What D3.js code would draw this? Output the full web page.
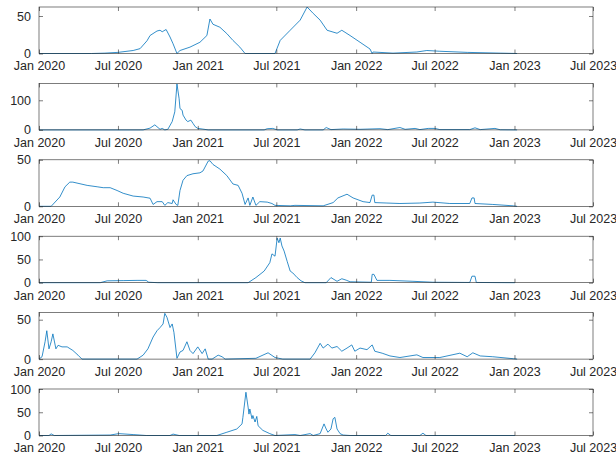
<!DOCTYPE html>
<html>
<head>
<meta charset="utf-8">
<script src="https://cdn.jsdelivr.net/npm/d3@7"></script>
<style>
  body { margin: 0; background: #fff; }
  svg { display: block; }
</style>
</head>
<body>
<div id="chart"></div>
<script>
// x axis tick dates (shared by all six panels)
const tickDates = ['2020-01-01', '2020-07-01', '2021-01-01', '2021-07-01',
  '2022-01-01', '2022-07-01', '2023-01-01', '2023-07-01'];
const tickLabels = ['Jan 2020', 'Jul 2020', 'Jan 2021', 'Jul 2021',
  'Jan 2022', 'Jul 2022', 'Jan 2023', 'Jul 2023'];

// y limits and ticks per panel
const yMax = [62, 157, 50, 100, 59, 100];
const yTicks = [[0, 50], [0, 100], [0, 50], [0, 50, 100], [0, 50], [0, 50, 100]];

// series values: [date, value]
const series1 = [
  ['2020-01-01', 0], ['2020-05-01', 0], ['2020-06-01', 0.5], ['2020-07-01', 1.5],
  ['2020-08-05', 4], ['2020-08-21', 6.5], ['2020-09-06', 17], ['2020-09-13', 24],
  ['2020-09-29', 30], ['2020-10-06', 31], ['2020-10-11', 29], ['2020-10-20', 32],
  ['2020-10-29', 22], ['2020-11-05', 13], ['2020-11-14', 0], ['2020-11-21', 4],
  ['2020-12-14', 8.5], ['2021-01-06', 15], ['2021-01-22', 24], ['2021-01-29', 46],
  ['2021-02-05', 39], ['2021-02-21', 35], ['2021-03-09', 26.5], ['2021-03-23', 17.5],
  ['2021-04-08', 8.5], ['2021-04-20', 0], ['2021-06-28', 0], ['2021-07-10', 17.5],
  ['2021-08-02', 31], ['2021-08-25', 44.5], ['2021-09-10', 62], ['2021-09-24', 53.5],
  ['2021-10-10', 44.5], ['2021-10-26', 31], ['2021-11-18', 27], ['2021-11-29', 31],
  ['2021-12-18', 24], ['2022-01-10', 15], ['2022-02-02', 6], ['2022-02-07', 0],
  ['2022-02-09', 2], ['2022-03-27', 0.5], ['2022-05-21', 2], ['2022-06-13', 4],
  ['2022-07-13', 3], ['2022-09-14', 1.5], ['2022-11-29', 0.5], ['2023-01-07', 0]
];
const series2 = [
  ['2020-01-01', 0], ['2020-08-28', 0], ['2020-09-13', 6], ['2020-09-24', 17],
  ['2020-10-06', 2], ['2020-10-11', 5], ['2020-10-17', 0], ['2020-10-24', 2],
  ['2020-11-03', 28], ['2020-11-09', 61], ['2020-11-14', 155], ['2020-11-19', 105],
  ['2020-11-21', 72], ['2020-11-26', 66], ['2020-11-28', 50], ['2020-12-05', 33],
  ['2020-12-09', 28], ['2020-12-16', 33], ['2020-12-21', 22], ['2020-12-26', 11],
  ['2021-01-01', 5], ['2021-01-11', 3], ['2021-01-25', 0], ['2021-06-03', 0],
  ['2021-06-10', 4], ['2021-06-23', 5], ['2021-07-03', 0], ['2021-08-18', 0],
  ['2021-08-25', 3], ['2021-09-05', 0], ['2021-10-17', 0], ['2021-10-24', 8],
  ['2021-11-04', 1], ['2021-12-02', 3], ['2022-01-10', 2], ['2022-02-02', 3],
  ['2022-02-25', 4], ['2022-03-15', 1], ['2022-04-12', 8], ['2022-04-24', 2],
  ['2022-05-17', 5], ['2022-05-28', 1], ['2022-06-16', 5], ['2022-07-02', 5],
  ['2022-07-13', 1], ['2022-09-20', 1], ['2022-10-02', 7], ['2022-10-14', 1],
  ['2022-11-17', 5], ['2022-11-29', 0.5], ['2023-01-07', 0]
];
const series3 = [
  ['2020-01-01', 0], ['2020-01-29', 0], ['2020-02-18', 10], ['2020-03-01', 21],
  ['2020-03-12', 26], ['2020-03-19', 26], ['2020-04-21', 22.5], ['2020-05-14', 21],
  ['2020-05-28', 20], ['2020-06-13', 20], ['2020-06-29', 17], ['2020-07-13', 14],
  ['2020-08-05', 11], ['2020-08-28', 10], ['2020-09-13', 8.7], ['2020-09-20', 2],
  ['2020-09-29', 5], ['2020-10-11', 5], ['2020-10-17', 1], ['2020-10-24', 4],
  ['2020-11-03', 3], ['2020-11-05', 7], ['2020-11-12', 2], ['2020-11-16', 1],
  ['2020-11-21', 17], ['2020-11-28', 28], ['2020-12-07', 33], ['2020-12-21', 35],
  ['2021-01-06', 36], ['2021-01-13', 38], ['2021-01-25', 48.6], ['2021-01-29', 49],
  ['2021-02-05', 45], ['2021-02-21', 40], ['2021-03-09', 33], ['2021-03-23', 24],
  ['2021-04-04', 22.5], ['2021-04-13', 14], ['2021-04-20', 2], ['2021-04-27', 9],
  ['2021-05-01', 1], ['2021-05-08', 10], ['2021-05-15', 1], ['2021-05-24', 5],
  ['2021-06-10', 4.5], ['2021-06-21', 3], ['2021-06-28', 1], ['2021-08-02', 0.5],
  ['2021-08-13', 1], ['2021-10-17', 0.5], ['2021-11-09', 4], ['2021-11-20', 9],
  ['2021-12-11', 13], ['2021-12-25', 9], ['2022-01-17', 5], ['2022-02-02', 4],
  ['2022-02-07', 12], ['2022-02-11', 12], ['2022-02-13', 4], ['2022-03-13', 3.5],
  ['2022-04-12', 3], ['2022-05-28', 3.5], ['2022-06-27', 4.5], ['2022-08-05', 3],
  ['2022-09-20', 3], ['2022-09-25', 9], ['2022-09-30', 9], ['2022-10-02', 3],
  ['2022-11-12', 2], ['2022-12-29', 0.5], ['2023-01-07', 0]
];
const series4 = [
  ['2020-01-01', 0], ['2020-05-21', 0], ['2020-06-06', 4], ['2020-07-13', 4.5],
  ['2020-08-14', 5], ['2020-09-04', 5], ['2020-09-10', 1], ['2020-10-01', 0],
  ['2021-04-27', 0], ['2021-05-15', 11], ['2021-06-03', 25], ['2021-06-16', 43],
  ['2021-06-21', 62], ['2021-06-28', 57], ['2021-07-03', 96], ['2021-07-07', 86],
  ['2021-07-10', 96], ['2021-07-14', 79], ['2021-07-19', 68], ['2021-07-26', 46],
  ['2021-08-02', 25], ['2021-08-08', 21], ['2021-08-18', 11], ['2021-08-27', 4],
  ['2021-09-05', 0], ['2021-10-24', 0], ['2021-11-04', 11], ['2021-11-18', 3],
  ['2021-11-29', 8.5], ['2021-12-09', 5.5], ['2021-12-18', 2], ['2022-02-05', 1],
  ['2022-02-07', 18], ['2022-02-11', 18], ['2022-02-18', 5], ['2022-03-20', 5],
  ['2022-05-12', 3], ['2022-06-27', 1], ['2022-09-20', 0.5], ['2022-09-25', 14],
  ['2022-10-02', 14], ['2022-10-05', 0.5], ['2023-01-02', 0]
];
const series5 = [
  ['2020-01-01', 0], ['2020-01-08', 3], ['2020-01-15', 22], ['2020-01-19', 36],
  ['2020-01-24', 13], ['2020-01-29', 22], ['2020-02-02', 32], ['2020-02-09', 13],
  ['2020-02-14', 17.5], ['2020-02-23', 15.5], ['2020-03-06', 15.5], ['2020-03-19', 11],
  ['2020-03-31', 5], ['2020-04-09', 0], ['2020-08-14', 0], ['2020-08-28', 5],
  ['2020-09-08', 13], ['2020-09-20', 28], ['2020-09-29', 36], ['2020-10-06', 40],
  ['2020-10-13', 44.6], ['2020-10-17', 58], ['2020-10-22', 53], ['2020-10-29', 40],
  ['2020-11-03', 44.6], ['2020-11-07', 34], ['2020-11-14', 1], ['2020-11-21', 9],
  ['2020-11-28', 11], ['2020-12-07', 22], ['2020-12-14', 11], ['2020-12-21', 7],
  ['2021-01-01', 15.5], ['2021-01-11', 7], ['2021-01-18', 13], ['2021-01-25', 0],
  ['2021-02-03', 0], ['2021-02-17', 5], ['2021-02-26', 3], ['2021-03-05', 0],
  ['2021-05-15', 1], ['2021-06-12', 8], ['2021-06-28', 2], ['2021-07-16', 0],
  ['2021-09-17', 0], ['2021-09-28', 8], ['2021-10-10', 20], ['2021-10-17', 14],
  ['2021-10-28', 19], ['2021-11-06', 14], ['2021-11-18', 16], ['2021-11-29', 10],
  ['2021-12-11', 14], ['2021-12-22', 18], ['2021-12-29', 10], ['2022-01-10', 14],
  ['2022-01-26', 12], ['2022-02-07', 18], ['2022-02-13', 10], ['2022-03-02', 7.5],
  ['2022-03-20', 4], ['2022-04-12', 2], ['2022-05-21', 5.4], ['2022-06-04', 2],
  ['2022-07-13', 2], ['2022-08-28', 7.5], ['2022-09-14', 3], ['2022-09-27', 8],
  ['2022-10-14', 4], ['2022-11-12', 3], ['2022-12-29', 0.5], ['2023-01-07', 0]
];
const series6 = [
  ['2020-01-01', 0], ['2020-01-24', 0], ['2020-01-29', 3.5], ['2020-02-05', 0],
  ['2020-06-13', 1], ['2020-07-03', 4], ['2020-08-05', 2], ['2020-09-04', 0],
  ['2020-10-29', 0], ['2020-11-05', 3], ['2020-11-19', 0], ['2021-02-14', 0],
  ['2021-03-09', 7], ['2021-04-01', 14], ['2021-04-13', 25], ['2021-04-15', 39],
  ['2021-04-22', 93], ['2021-04-27', 61], ['2021-04-29', 46], ['2021-05-01', 57],
  ['2021-05-06', 36], ['2021-05-08', 43], ['2021-05-13', 29], ['2021-05-17', 41],
  ['2021-05-20', 21], ['2021-05-31', 11], ['2021-06-16', 4], ['2021-06-28', 0],
  ['2021-08-13', 2], ['2021-08-25', 0], ['2021-09-17', 4], ['2021-09-24', 0],
  ['2021-10-10', 4], ['2021-10-19', 25], ['2021-10-24', 14], ['2021-10-28', 7],
  ['2021-11-04', 14], ['2021-11-09', 36], ['2021-11-13', 39], ['2021-11-18', 14],
  ['2021-11-25', 4], ['2021-12-02', 1], ['2021-12-18', 0], ['2022-03-10', 0],
  ['2022-03-15', 5], ['2022-03-22', 0], ['2022-05-28', 0], ['2022-06-04', 5],
  ['2022-06-11', 0], ['2023-01-02', 0]
];
const allSeries = [series1, series2, series3, series4, series5, series6];

const width = 616;
const height = 457;
const left = 39;
const right = 593;
const top0 = 7;
const panelStep = 76.4;
const panelH = 46.5;
const ink = '#262626';
const lineColor = '#0072bd';
const font = 'Helvetica, "Liberation Sans", Arial, sans-serif';

const parse = d3.timeParse('%Y-%m-%d');

const svg = d3.select('#chart')
  .append('svg')
  .attr('width', width)
  .attr('height', height);

const x = d3.scaleTime()
  .domain([parse(tickDates[0]), parse(tickDates[tickDates.length - 1])])
  .range([left, right]);

allSeries.forEach((data, i) => {
  const y0 = top0 + i * panelStep;
  const y = d3.scaleLinear().domain([0, yMax[i]]).range([y0 + panelH, y0]);
  const g = svg.append('g');

  // data line
  const line = d3.line()
    .x(d => x(parse(d[0])))
    .y(d => y(d[1]));
  g.append('path')
    .datum(data)
    .attr('fill', 'none')
    .attr('stroke', lineColor)
    .attr('stroke-width', 0.8)
    .attr('stroke-linejoin', 'round')
    .attr('d', line);

  // bottom axis with labels, ticks pointing inward
  const ticks = tickDates.map(parse);
  const xAxis = d3.axisBottom(x)
    .tickValues(ticks)
    .tickSize(-4)
    .tickPadding(8)
    .tickFormat((d, k) => tickLabels[k]);
  const gx = g.append('g')
    .attr('transform', `translate(0,${y0 + panelH})`)
    .call(xAxis);
  gx.select('.domain').remove();
  gx.selectAll('line').attr('stroke', ink).attr('stroke-width', 0.6);
  gx.selectAll('text')
    .attr('fill', ink)
    .attr('font-size', '12.5px')
    .attr('font-family', font);

  // top ticks
  const gxt = g.append('g')
    .attr('transform', `translate(0,${y0})`)
    .call(d3.axisTop(x).tickValues(ticks).tickSize(-4).tickFormat(''));
  gxt.select('.domain').remove();
  gxt.selectAll('line').attr('stroke', ink).attr('stroke-width', 0.6);

  // left axis with labels
  const gy = g.append('g')
    .attr('transform', `translate(${left},0)`)
    .call(d3.axisLeft(y).tickValues(yTicks[i]).tickSize(-4).tickPadding(8));
  gy.select('.domain').remove();
  gy.selectAll('line').attr('stroke', ink).attr('stroke-width', 0.6);
  gy.selectAll('text')
    .attr('fill', ink)
    .attr('font-size', '12.5px')
    .attr('font-family', font);

  // right ticks
  const gyr = g.append('g')
    .attr('transform', `translate(${right},0)`)
    .call(d3.axisRight(y).tickValues(yTicks[i]).tickSize(-4).tickFormat(''));
  gyr.select('.domain').remove();
  gyr.selectAll('line').attr('stroke', ink).attr('stroke-width', 0.6);

  // box
  g.append('rect')
    .attr('x', left)
    .attr('y', y0)
    .attr('width', right - left)
    .attr('height', panelH)
    .attr('fill', 'none')
    .attr('stroke', ink)
    .attr('stroke-width', 0.6);
});
</script>
</body>
</html>
